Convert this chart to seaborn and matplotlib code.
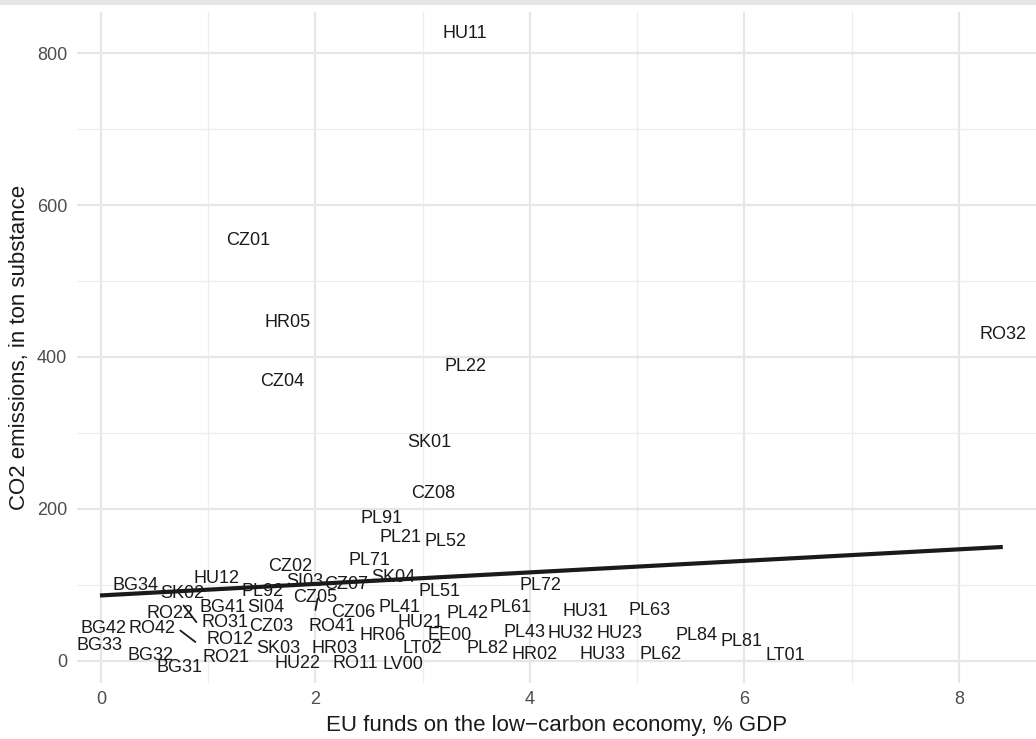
import numpy as np
import pandas as pd
import matplotlib
matplotlib.use("Agg")
import matplotlib.pyplot as plt
import seaborn as sns
from matplotlib.patches import Rectangle

regions = ["HU11", "CZ01", "HR05", "RO32", "PL22", "CZ04", "SK01", "CZ08", "PL91", "PL21",
           "PL52", "PL71", "CZ02", "PL72", "HU12", "SK04", "BG34", "SI03", "CZ07", "SK02",
           "PL92", "PL51", "CZ05", "BG41", "SI04", "RO22", "PL41", "PL61", "CZ06", "PL42",
           "HU31", "PL63", "RO31", "CZ03", "HU21", "RO41", "BG42", "RO42", "HR06", "EE00",
           "PL43", "HU32", "HU23", "PL84", "PL81", "RO12", "BG33", "SK03", "HR03", "LT02",
           "PL82", "HR02", "HU33", "PL62", "LT01", "BG32", "RO21", "HU22", "RO11", "LV00",
           "BG31"]
eu_funds = [3.39, 1.37, 1.74, 8.41, 3.40, 1.69, 3.06, 3.10, 2.62, 2.79,
            3.21, 2.50, 1.76, 4.10, 1.08, 2.73, 0.32, 1.90, 2.29, 0.76,
            1.51, 3.16, 2.00, 1.13, 1.54, 0.64, 2.78, 3.82, 2.35, 3.42,
            4.52, 5.12, 1.16, 1.59, 2.98, 2.15, 0.02, 0.48, 2.63, 3.25,
            3.95, 4.38, 4.84, 5.55, 5.97, 1.20, -0.01, 1.65, 2.18, 3.00,
            3.60, 4.04, 4.68, 5.22, 6.38, 0.46, 1.17, 1.83, 2.37, 2.82,
            0.73]
co2 = [826, 553, 445, 429, 387, 368, 287, 220, 188, 163,
       157, 132, 124, 99, 108, 110, 99, 104, 101, 89,
       91, 91, 83, 70, 70, 63, 70, 70, 64, 62,
       65, 66, 51, 46, 51, 45, 43, 43, 33, 33,
       38, 36, 36, 33, 26, 28, 20, 17, 17, 16,
       17, 9, 8, 8, 7, 7, 5, -3, -3, -4,
       -9]

# repelled labels: actual point positions (label drawn away from point)
repel_regions = ["RO22", "RO42", "CZ05"]
repel_point_x = [0.89, 0.88, 2.00]
repel_point_y = [51, 25, 67]
repel_start_x = [0.77, 0.74, 2.02]
repel_start_y = [73, 40, 82]

df = pd.DataFrame({"region": regions, "funds": eu_funds, "co2": co2})

sns.set_theme(style="whitegrid")
plt.rcParams["font.family"] = ["Liberation Sans", "DejaVu Sans"]

fig = plt.figure(figsize=(10.36, 7.39), dpi=100)
fig.patches.append(Rectangle((0, 1 - 5 / 739), 1, 5 / 739, transform=fig.transFigure,
                             facecolor="#e5e6e8", edgecolor="none", zorder=0))
ax = fig.add_axes([77 / 1036, 56 / 739, 1 - 77 / 1036, (683 - 12) / 739])
ax.set_facecolor("white")

sns.regplot(data=df, x="funds", y="co2", scatter=False, ci=None, ax=ax,
            color="#1a1a1a", line_kws={"linewidth": 3, "solid_capstyle": "butt"})

for r, xv, yv in zip(regions, eu_funds, co2):
    ax.text(xv, yv, r, ha="center", va="center", fontsize=13, color="#1a1a1a", zorder=5)

for sx, sy, px, py in zip(repel_start_x, repel_start_y, repel_point_x, repel_point_y):
    ax.plot([sx, px], [sy, py], color="#1a1a1a", linewidth=1.3, zorder=4)

ax.set_xlim(-0.224, 8.72)
ax.set_ylim(-29, 854)
ax.set_xticks([0, 2, 4, 6, 8])
ax.set_yticks([0, 200, 400, 600, 800])
ax.set_xticks([1, 3, 5, 7], minor=True)
ax.set_yticks([100, 300, 500, 700], minor=True)
ax.grid(which="major", color="#e6e6e6", linewidth=1.6)
ax.grid(which="minor", color="#ececec", linewidth=0.9)
for s in ax.spines.values():
    s.set_visible(False)
ax.tick_params(axis="both", which="both", length=0, labelsize=13, labelcolor="#4d4d4d")
ax.tick_params(axis="x", pad=6)
ax.tick_params(axis="y", pad=7)
ax.set_xlabel("EU funds on the low\u2212carbon economy, % GDP", fontsize=16, color="#1a1a1a", labelpad=5)
ax.set_ylabel("CO2 emissions, in ton substance", fontsize=16, color="#1a1a1a", labelpad=5)

fig.savefig("out.png", dpi=100)
